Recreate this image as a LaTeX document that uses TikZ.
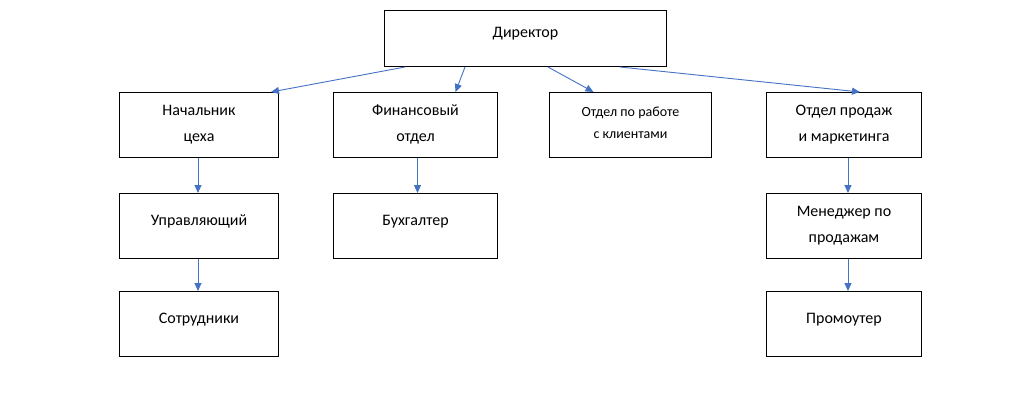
\documentclass[tikz,border=0pt]{standalone}
\usepackage{fontspec}
\setmainfont{Carlito}
\usetikzlibrary{arrows.meta}
\definecolor{lineblue}{RGB}{68,114,196}
\tikzset{
	box/.style={draw, line width=1pt, anchor=north west, minimum width=159pt, minimum height=65pt, align=center, font=\fontsize{16}{26}\selectfont, inner sep=2pt, text depth=4pt},
	single/.style={box, text depth=12pt},
	link/.style={lineblue, line width=0.9pt, -{Triangle[length=8pt,width=7pt]}}
}
\begin{document}
\begin{tikzpicture}[x=1pt,y=-1pt]
	\useasboundingbox[fill=white] (0,0) rectangle (1023,416);
	
	% Leitung
	\node[single, minimum width=282pt, minimum height=56pt] (dir) at (384,10) {Директор};
	
	% erste Ebene
	\node[box] (nach) at (119,92) {Начальник\\цеха};
	\node[box, minimum width=164pt] (fin) at (333,92) {Финансовый\\отдел};
	\node[box, minimum width=162pt, font=\fontsize{14}{22}\selectfont] (klient) at (549,92) {Отдел по работе\\с клиентами};
	\node[box, minimum width=155pt] (prod) at (766,92) {Отдел продаж\\и маркетинга};
	
	% zweite Ebene
	\node[single] (upr) at (119,193) {Управляющий};
	\node[single, minimum width=164pt] (buch) at (333,193) {Бухгалтер};
	\node[box, minimum width=155pt] (men) at (766,193) {Менеджер по\\продажам};
	
	% dritte Ebene
	\node[single] (sotr) at (119,291) {Сотрудники};
	\node[single, minimum width=155pt] (prom) at (766,291) {Промоутер};
	
	% Verbindungen
	\draw[link] ([xshift=21pt]dir.south west) -- ([xshift=-8pt]nach.north east);
	\draw[link] ([xshift=81pt]dir.south west) -- ([xshift=40pt]fin.north);
	\draw[link] ([xshift=164pt]dir.south west) -- ([xshift=-37pt]klient.north);
	\draw[link] ([xshift=236pt]dir.south west) -- ([xshift=16pt]prod.north);
	\draw[link] ([xshift=-1pt]nach.south) -- ([xshift=-1pt]upr.north);
	\draw[link] ([xshift=-1pt]upr.south) -- ([xshift=-1pt]sotr.north);
	\draw[link] ([xshift=2pt]fin.south) -- ([xshift=2pt]buch.north);
	\draw[link] ([xshift=4pt]prod.south) -- ([xshift=4pt]men.north);
	\draw[link] ([xshift=4pt]men.south) -- ([xshift=4pt]prom.north);
\end{tikzpicture}
\end{document}
